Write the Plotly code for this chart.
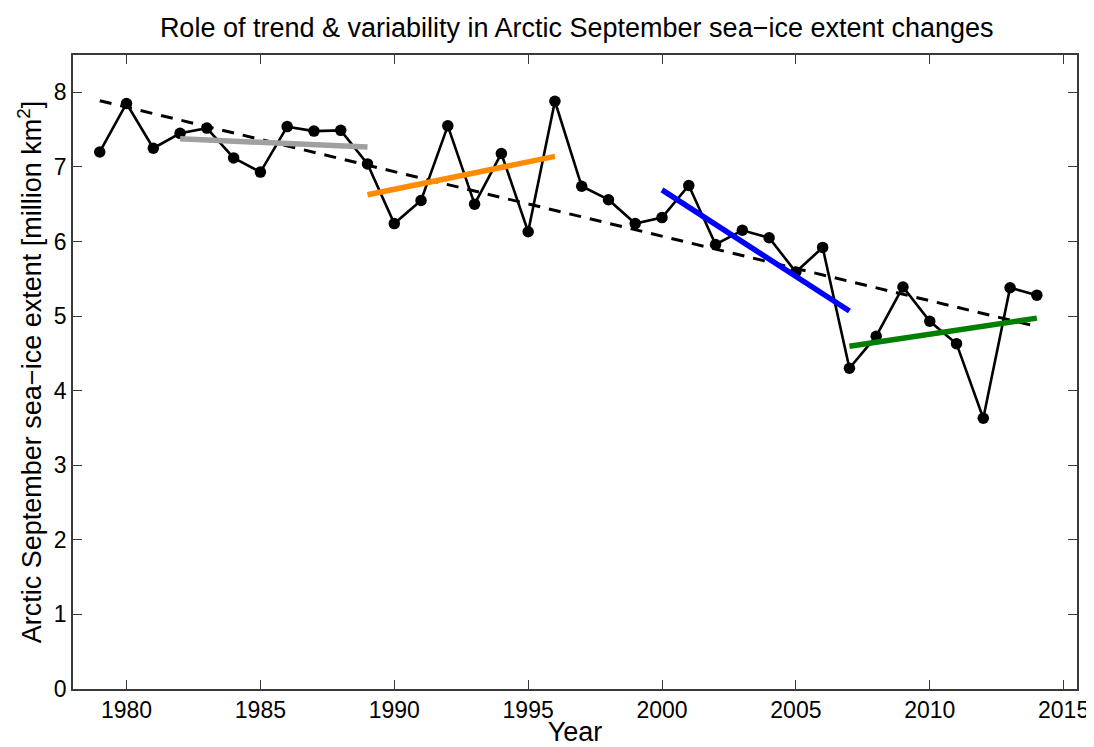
import numpy as np
import plotly.graph_objects as go

# ---- data ----
years = list(range(1979, 2015))
extent = [7.20, 7.85, 7.25, 7.45, 7.52, 7.12, 6.93, 7.54, 7.48, 7.49,
          7.04, 6.24, 6.55, 7.55, 6.50, 7.18, 6.13, 7.88, 6.74, 6.56,
          6.24, 6.32, 6.75, 5.96, 6.15, 6.05, 5.59, 5.92, 4.30, 4.73,
          5.39, 4.93, 4.63, 3.63, 5.38, 5.28]
seg_start = [1982, 1989, 2000, 2007]
seg_end = [1989, 1996, 2007, 2014]
x_ticks = [1980, 1985, 1990, 1995, 2000, 2005, 2010, 2015]
y_ticks = [0, 1, 2, 3, 4, 5, 6, 7, 8]

title_text = "Role of trend &amp; variability in Arctic September sea\u2212ice extent changes"
x_title = "Year"
y_title = "Arctic September sea\u2212ice extent [million km<sup>2</sup>]"

# ---- styles ----
seg_colors = ["#A0A0A0", "#FF8C00", "#0000FF", "#008000"]
FONT = "Liberation Sans, Arial, Helvetica, sans-serif"
AX = "#3a3a3a"

yrs = np.array(years, dtype=float)
ext = np.array(extent)

fig = go.Figure()

# full-period linear trend
p = np.polyfit(yrs, ext, 1)
fig.add_trace(go.Scatter(x=[yrs[0], yrs[-1]], y=np.polyval(p, [yrs[0], yrs[-1]]),
                         mode="lines", line=dict(color="black", width=3, dash="12px,9px"),
                         hoverinfo="skip", showlegend=False))

# observed series
fig.add_trace(go.Scatter(x=years, y=extent, mode="lines+markers",
                         line=dict(color="black", width=2.6),
                         marker=dict(color="black", size=11.5),
                         showlegend=False))

# sub-period trends
for s, e, c in zip(seg_start, seg_end, seg_colors):
    m = (yrs >= s) & (yrs <= e)
    q = np.polyfit(yrs[m], ext[m], 1)
    fig.add_trace(go.Scatter(x=[s, e], y=np.polyval(q, [s, e]), mode="lines",
                             line=dict(color=c, width=5.5), hoverinfo="skip",
                             showlegend=False))

axis_common = dict(showline=True, linecolor=AX, linewidth=1.5, mirror="ticks",
                   ticks="inside", ticklen=9, tickwidth=1.3, tickcolor=AX,
                   showgrid=False, zeroline=False,
                   tickfont=dict(family=FONT, size=23, color="black"))

# the page body has an 8px default margin, so the figure is sized to end at 1094x747
fig.update_layout(
    width=1086, height=739,
    margin=dict(l=65, r=17, t=47, b=58, autoexpand=False),
    paper_bgcolor="white", plot_bgcolor="white",
    title=dict(text=title_text, x=0.5237, xanchor="center", y=0.974, yanchor="middle",
               yref="container", font=dict(family=FONT, size=27, color="black")),
    xaxis=dict(range=[1978, 2015.5], tickvals=x_ticks,
               title=dict(text=x_title, standoff=7, font=dict(family=FONT, size=27, color="black")),
               **axis_common),
    yaxis=dict(range=[0, 8.5], tickvals=y_ticks,
               title=dict(text=y_title, standoff=4, font=dict(family=FONT, size=27, color="black")),
               **axis_common),
)

fig.write_html("out.html")
